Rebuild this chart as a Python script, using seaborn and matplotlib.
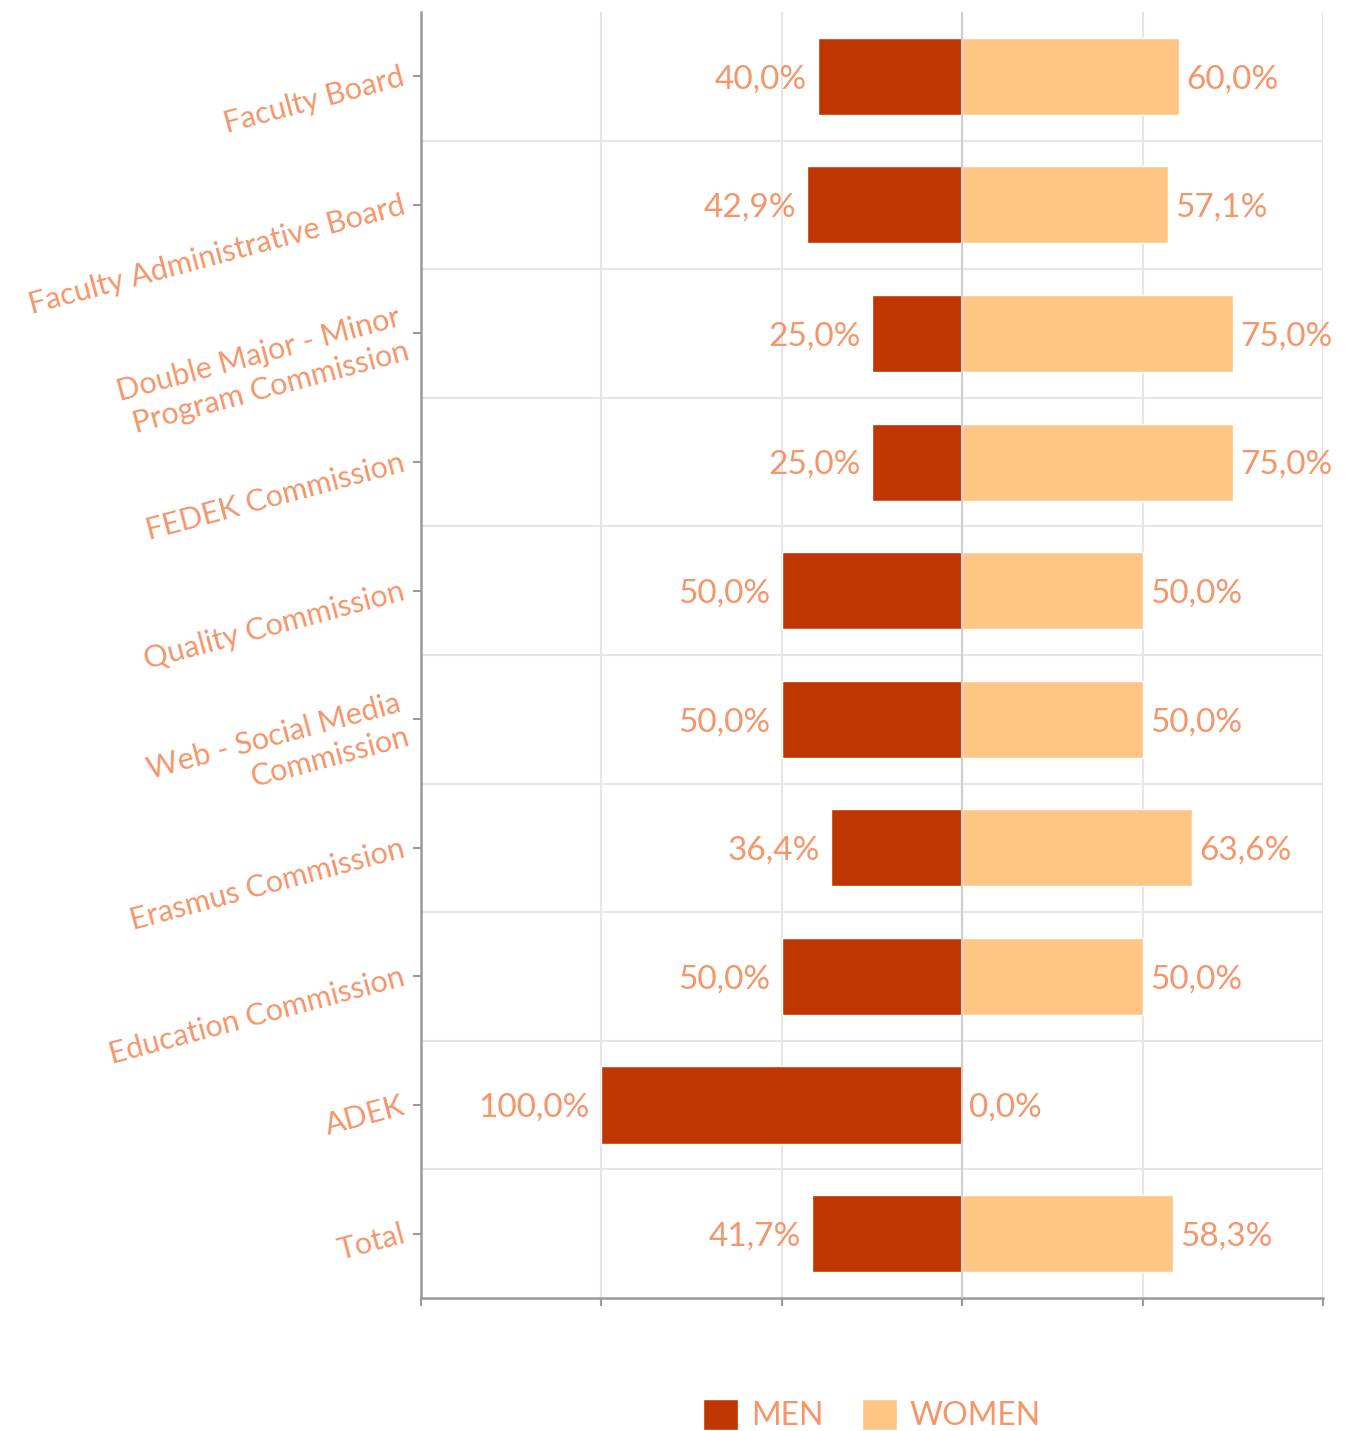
import numpy as np
import pandas as pd
import seaborn as sns
import matplotlib.pyplot as plt
from matplotlib.patches import Patch

# Data (percent of members)
categories = ['Faculty Board', 'Faculty Administrative Board',
              'Double Major - Minor\nProgram Commission', 'FEDEK Commission',
              'Quality Commission', 'Web - Social Media\nCommission',
              'Erasmus Commission', 'Education Commission', 'ADEK', 'Total']
men = [40.0, 42.9, 25.0, 25.0, 50.0, 50.0, 36.4, 50.0, 100.0, 41.7]
women = [60.0, 57.1, 75.0, 75.0, 50.0, 50.0, 63.6, 50.0, 0.0, 58.3]

men_color = '#C03600'
women_color = '#FFC584'
text_color = '#F4956A'

df = pd.DataFrame({
    'category': categories * 2,
    'value': [-v for v in men] + women,
    'gender': ['MEN'] * len(men) + ['WOMEN'] * len(women),
})

sns.set_style('white')
plt.rcParams['font.family'] = ['Lato', 'DejaVu Sans']

fig, ax = plt.subplots(figsize=(13.53, 14.31), dpi=100)
fig.subplots_adjust(left=0.311, right=0.978, top=0.9916, bottom=0.093)

sns.barplot(data=df, x='value', y='category', hue='gender', order=categories,
            palette={'MEN': men_color, 'WOMEN': women_color}, saturation=1,
            dodge=False, width=0.6, orient='h', legend=False, ax=ax,
            zorder=3)

ax.set_xlim(-150, 100)
ax.set_ylim(len(categories) - 0.5, -0.5)
ax.set_xticks([-150, -100, -50, 0, 50, 100])
ax.set_xticklabels([])
ax.set_yticks(np.arange(0.5, len(categories) - 1, 1), minor=True)
ax.grid(axis='x', which='major', color='#e6e6e6', lw=1.5, zorder=0)
ax.grid(axis='y', which='minor', color='#e6e6e6', lw=1.5, zorder=0)
ax.axvline(0, color='#cfcfcf', lw=1.5, zorder=4)
ax.set_xlabel('')
ax.set_ylabel('')

for side in ['top', 'right']:
    ax.spines[side].set_visible(False)
for side in ['left', 'bottom']:
    ax.spines[side].set_color('#9a9a9a')
    ax.spines[side].set_linewidth(1.8)

ax.tick_params(axis='x', which='major', bottom=True, length=6, width=1.5, color='#9a9a9a')
ax.tick_params(axis='y', which='major', left=True, length=6, width=1.5, color='#9a9a9a', pad=6)
ax.tick_params(which='minor', length=0)
for lbl in ax.get_yticklabels():
    lbl.set_rotation(15)
    lbl.set_ha('right')
    lbl.set_va('center')
    lbl.set_rotation_mode('anchor')
    lbl.set_color(text_color)
    lbl.set_fontsize(22)
    lbl.set_multialignment('right')
    lbl.set_linespacing(1.3)

def fmt(v):
    return f'{v:.1f}'.replace('.', ',') + '%'

for i, (m, w) in enumerate(zip(men, women)):
    ax.annotate(fmt(m), (-m, i), xytext=(-8, -2), textcoords='offset points',
                ha='right', va='center', fontsize=24, color=text_color)
    ax.annotate(fmt(w), (w, i), xytext=(5, -2), textcoords='offset points',
                ha='left', va='center', fontsize=24, color=text_color)

handles = [Patch(facecolor=men_color, label='MEN'),
           Patch(facecolor=women_color, label='WOMEN')]
leg = ax.legend(handles=handles, loc='center', bbox_to_anchor=(0.5, -0.091),
                ncol=2, frameon=False, fontsize=23, handlelength=1.1,
                handleheight=1.1, handletextpad=0.4, columnspacing=1.2)
for t in leg.get_texts():
    t.set_color(text_color)

plt.savefig('out.png', dpi=100)
